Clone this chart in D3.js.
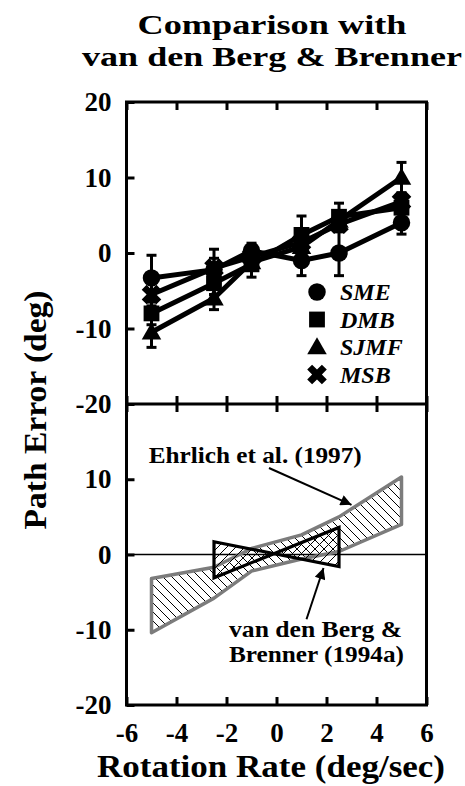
<!DOCTYPE html>
<html>
<head>
<meta charset="utf-8">
<script src="https://cdn.jsdelivr.net/npm/d3@7"></script>
<style>
  body { margin: 0; background: #fff; }
  text { font-family: "Liberation Serif", "Times New Roman", serif; font-weight: bold; fill: #000; }
</style>
</head>
<body>
<svg id="chart" width="465" height="786"></svg>
<script>
// ---- data -------------------------------------------------------------
const rates = [-5, -2.5, -1, 1, 2.5, 5];           // rotation rate (deg/sec)
const subjects = ["SME", "DMB", "SJMF", "MSB"];

const smeMean  = [-3.3, -2.2, 0.3, -1.0, 0.0, 4.0];
const smeErr   = [3.0, 1.5, 1.0, 2.0, 3.0, 1.5];
const dmbMean  = [-8.0, -4.0, -1.5, 2.4, 4.8, 6.0];
const dmbErr   = [1.5, 1.5, 1.7, 2.5, 1.8, 1.5];
const sjmfMean = [-10.5, -6.0, -1.2, 0.8, 4.3, 10.0];
const sjmfErr  = [2.0, 1.5, 1.0, 1.0, 1.0, 2.0];
const msbMean  = [-5.5, -2.0, -0.5, 1.4, 3.8, 6.8];
const msbErr   = [1.5, 2.5, 1.0, 1.0, 1.0, 1.0];

// Ehrlich et al. (1997) range
const ehrlichRates = [-5, -2.5, -1, 1, 2.5, 5];
const ehrlichUpper = [-3.2, -1.7, 0.8, 2.6, 5.0, 10.3];
const ehrlichLower = [-10.4, -5.8, -2.2, -0.6, 0.4, 4.0];

// van den Berg & Brenner (1994a) range: two bounding lines
const vdbRates   = [-2.5, 2.5];
const vdbRising  = [-3.1, 3.6];
const vdbFalling = [1.7, -1.6];

const xTicks       = [-6, -4, -2, 0, 2, 4, 6];
const yTicksTop    = [20, 10, 0, -10, -20];
const yTicksBottom = [10, 0, -10, -20];

// ---- scales -----------------------------------------------------------
const svg = d3.select("#chart");
const x    = d3.scaleLinear().domain([-6, 6]).range([126.5, 426.5]);
const yTop = d3.scaleLinear().domain([-20, 20]).range([404, 102]);
const yBot = d3.scaleLinear().domain([-20, 20]).range([705, 404]);

// ---- patterns & markers ----------------------------------------------
const defs = svg.append("defs");
const hs = 9;
defs.append("pattern")
  .attr("id", "hatchDown").attr("patternUnits", "userSpaceOnUse")
  .attr("width", hs).attr("height", hs)
  .append("path")
  .attr("d", `M0,0L${hs},${hs}M${-hs/2},${hs/2}L${hs/2},${hs*1.5}M${hs/2},${-hs/2}L${hs*1.5},${hs/2}`)
  .attr("stroke", "#000").attr("stroke-width", 1);
defs.append("pattern")
  .attr("id", "hatchUp").attr("patternUnits", "userSpaceOnUse")
  .attr("width", hs).attr("height", hs)
  .append("path")
  .attr("d", `M0,${hs}L${hs},0M${-hs/2},${hs/2}L${hs/2},${-hs/2}M${hs/2},${hs*1.5}L${hs*1.5},${hs/2}`)
  .attr("stroke", "#000").attr("stroke-width", 1);
defs.append("marker")
  .attr("id", "arrowHead").attr("viewBox", "0 0 10 10")
  .attr("refX", 10).attr("refY", 5)
  .attr("markerWidth", 15).attr("markerHeight", 11)
  .attr("markerUnits", "userSpaceOnUse").attr("orient", "auto")
  .append("path").attr("d", "M0,0L10,5L0,10Z").attr("fill", "#000");

// ---- titles -----------------------------------------------------------
svg.append("text").attr("x", 272).attr("y", 34).attr("text-anchor", "middle")
  .attr("font-size", 28).attr("textLength", 269).attr("lengthAdjust", "spacingAndGlyphs")
  .text("Comparison with");
svg.append("text").attr("x", 272).attr("y", 65.5).attr("text-anchor", "middle")
  .attr("font-size", 28).attr("textLength", 380).attr("lengthAdjust", "spacingAndGlyphs")
  .text("van den Berg & Brenner");

svg.append("text").attr("x", 271).attr("y", 777).attr("text-anchor", "middle")
  .attr("font-size", 32).attr("textLength", 348).attr("lengthAdjust", "spacingAndGlyphs")
  .text("Rotation Rate (deg/sec)");
svg.append("text").attr("transform", "translate(46,410) rotate(-90)").attr("text-anchor", "middle")
  .attr("font-size", 32).attr("textLength", 239).attr("lengthAdjust", "spacingAndGlyphs")
  .text("Path Error (deg)");

// ---- bottom panel: literature ranges ---------------------------------
const plot = svg.append("g");

plot.append("line")
  .attr("x1", x(-6)).attr("x2", x(6))
  .attr("y1", yBot(0)).attr("y2", yBot(0))
  .attr("stroke", "#000").attr("stroke-width", 1.5);

const ehrlich = ehrlichRates.map((r, i) => ({ r, hi: ehrlichUpper[i], lo: ehrlichLower[i] }));
plot.append("path")
  .attr("d", d3.area().x(d => x(d.r)).y0(d => yBot(d.lo)).y1(d => yBot(d.hi))(ehrlich))
  .attr("fill", "url(#hatchDown)")
  .attr("stroke", "#7c7c7c").attr("stroke-width", 3.5).attr("stroke-linejoin", "round");

const bow = [
  [vdbRates[0], vdbFalling[0]], [vdbRates[1], vdbFalling[1]],
  [vdbRates[1], vdbRising[1]],  [vdbRates[0], vdbRising[0]]
];
plot.append("path")
  .attr("d", d3.line().x(d => x(d[0])).y(d => yBot(d[1]))(bow) + "Z")
  .attr("fill", "url(#hatchUp)").attr("fill-rule", "nonzero")
  .attr("stroke", "#000").attr("stroke-width", 3.2).attr("stroke-linejoin", "miter");

// annotations
plot.append("text").attr("x", x(-0.85)).attr("y", yBot(12.2)).attr("text-anchor", "middle")
  .attr("font-size", 24).attr("textLength", 213).attr("lengthAdjust", "spacingAndGlyphs")
  .text("Ehrlich et al. (1997)");
plot.append("line")
  .attr("x1", x(-0.3)).attr("y1", yBot(11.5)).attr("x2", x(3.0)).attr("y2", yBot(6.6))
  .attr("stroke", "#000").attr("stroke-width", 2).attr("marker-end", "url(#arrowHead)");

plot.append("text").attr("x", x(-1.9)).attr("y", yBot(-11)).attr("font-size", 24)
  .attr("textLength", 173).attr("lengthAdjust", "spacingAndGlyphs").text("van den Berg &");
plot.append("text").attr("x", x(-1.9)).attr("y", yBot(-14.3)).attr("font-size", 24)
  .attr("textLength", 175).attr("lengthAdjust", "spacingAndGlyphs").text("Brenner (1994a)");
plot.append("line")
  .attr("x1", x(1.2)).attr("y1", yBot(-8.6)).attr("x2", x(1.88)).attr("y2", yBot(-1.8))
  .attr("stroke", "#000").attr("stroke-width", 2).attr("marker-end", "url(#arrowHead)");

// ---- top panel: subject data -----------------------------------------
const series = [
  { name: "SME",  mean: smeMean,  err: smeErr,  type: "circle" },
  { name: "DMB",  mean: dmbMean,  err: dmbErr,  type: "square" },
  { name: "SJMF", mean: sjmfMean, err: sjmfErr, type: "triangle" },
  { name: "MSB",  mean: msbMean,  err: msbErr,  type: "x" }
];
const symbolPath = {
  circle:   d3.symbol(d3.symbolCircle, 240)(),
  square:   d3.symbol(d3.symbolSquare, 250)(),
  triangle: d3.symbol(d3.symbolTriangle, 165)(),
  x:        d3.symbol(d3.symbolCross, 240)()
};
const symbolRot = { circle: 0, square: 0, triangle: 0, x: 45 };

const lineGen = d3.line().x(d => x(d.r)).y(d => yTop(d.v));
series.forEach(s => {
  s.pts = rates.map((r, i) => ({ r, v: s.mean[i], e: s.err[i] }));
});

const dataG = svg.append("g");
series.forEach(s => {
  dataG.append("path").attr("d", lineGen(s.pts))
    .attr("fill", "none").attr("stroke", "#000").attr("stroke-width", 5).attr("stroke-linejoin", "round");
});
series.forEach(s => {
  const eb = dataG.append("g").attr("stroke", "#000").attr("stroke-width", 3);
  s.pts.forEach(p => {
    eb.append("line").attr("x1", x(p.r)).attr("x2", x(p.r))
      .attr("y1", yTop(p.v - p.e)).attr("y2", yTop(p.v + p.e));
    [p.v - p.e, p.v + p.e].forEach(v => {
      eb.append("line").attr("x1", x(p.r) - 5).attr("x2", x(p.r) + 5)
        .attr("y1", yTop(v)).attr("y2", yTop(v));
    });
  });
});
series.forEach(s => {
  dataG.selectAll(null).data(s.pts).join("path")
    .attr("d", symbolPath[s.type])
    .attr("transform", d => `translate(${x(d.r)},${yTop(d.v) + (s.type === "triangle" ? 1.5 : 0)}) rotate(${symbolRot[s.type]})`)
    .attr("fill", "#000");
});

// legend
const legend = svg.append("g");
series.forEach((s, i) => {
  const ly = 292 + i * 27.5;
  legend.append("path").attr("d", symbolPath[s.type])
    .attr("transform", `translate(317,${ly + (s.type === "triangle" ? 1.5 : 0)}) rotate(${symbolRot[s.type]})`)
    .attr("fill", "#000");
  legend.append("text").attr("x", 340).attr("y", ly + 8)
    .attr("font-size", 24).attr("font-style", "italic").text(s.name);
});

// ---- axes & frame -----------------------------------------------------
function styleAxis(g) {
  g.select(".domain").remove();
  g.selectAll(".tick line").attr("stroke", "#000").attr("stroke-width", 3);
  g.selectAll(".tick text")
    .attr("font-family", "'Liberation Serif', 'Times New Roman', serif")
    .attr("font-weight", "bold").attr("font-size", 27).attr("fill", "#000");
  g.attr("font-family", null).attr("font-size", null);
}
const fmt = d => String(d);

svg.append("g").attr("transform", `translate(${x(-6)},0)`)
  .call(d3.axisLeft(yTop).tickValues(yTicksTop).tickSize(-8).tickPadding(15).tickFormat(fmt))
  .call(styleAxis);
svg.append("g").attr("transform", `translate(${x(-6)},0)`)
  .call(d3.axisLeft(yBot).tickValues(yTicksBottom).tickSize(-8).tickPadding(15).tickFormat(fmt))
  .call(styleAxis);

svg.append("g").attr("transform", `translate(0,${yTop(20)})`)
  .call(d3.axisTop(x).tickValues(xTicks).tickSize(-8).tickFormat(""))
  .call(styleAxis);
svg.append("g").attr("transform", `translate(0,${yTop(-20)})`)
  .call(d3.axisBottom(x).tickValues(xTicks).tickSize(-8).tickFormat(""))
  .call(styleAxis);
svg.append("g").attr("transform", `translate(0,${yBot(20)})`)
  .call(d3.axisTop(x).tickValues(xTicks).tickSize(-8).tickFormat(""))
  .call(styleAxis);
svg.append("g").attr("transform", `translate(0,${yBot(-20)})`)
  .call(d3.axisBottom(x).tickValues(xTicks).tickSize(-8).tickPadding(18).tickFormat(fmt))
  .call(styleAxis);

const frame = svg.append("g").attr("fill", "none").attr("stroke", "#000").attr("stroke-width", 3);
frame.append("rect").attr("x", x(-6)).attr("y", yTop(20))
  .attr("width", x(6) - x(-6)).attr("height", yBot(-20) - yTop(20));
frame.append("line").attr("x1", x(-6)).attr("x2", x(6)).attr("y1", yTop(-20)).attr("y2", yTop(-20));
</script>
</body>
</html>
